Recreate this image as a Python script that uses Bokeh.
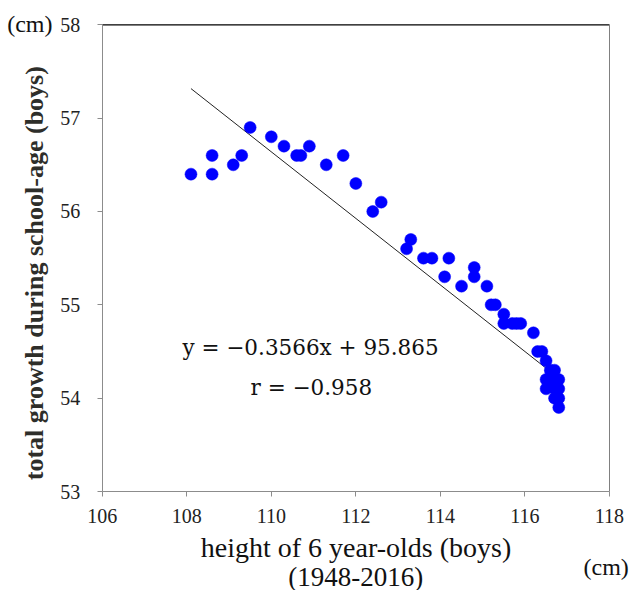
import math
from bokeh.plotting import figure
from bokeh.models import Label, FixedTicker, Range1d
from bokeh.embed import file_html
from bokeh.resources import INLINE

# ---- data ----
height_6yo = [108.1, 108.6, 108.6, 109.1, 109.3, 109.5, 110.0, 110.3, 110.6, 110.7,
              110.9, 111.3, 111.7, 112.0, 112.4, 112.6, 113.2, 113.3, 113.6, 113.8,
              114.2, 114.1, 114.5, 114.8, 114.8, 115.1, 115.2, 115.3, 115.5, 115.5,
              115.7, 115.8, 115.9, 116.2, 116.3, 116.4, 116.5, 116.6, 116.7, 116.5,
              116.8, 116.6, 116.5, 116.7, 116.8, 116.7, 116.8, 116.8]
total_growth = [56.4, 56.6, 56.4, 56.5, 56.6, 56.9, 56.8, 56.7, 56.6, 56.6,
                56.7, 56.5, 56.6, 56.3, 56.0, 56.1, 55.6, 55.7, 55.5, 55.5,
                55.5, 55.3, 55.2, 55.4, 55.3, 55.2, 55.0, 55.0, 54.9, 54.8,
                54.8, 54.8, 54.8, 54.7, 54.5, 54.5, 54.4, 54.3, 54.3, 54.2,
                54.2, 54.2, 54.1, 54.1, 54.1, 54.0, 54.0, 53.9]
slope = -0.3566
intercept = 95.865
x_ticks = [106, 108, 110, 112, 114, 116, 118]
y_ticks = [53, 54, 55, 56, 57, 58]
x_title = "height of 6 year-olds (boys)"
y_title = "total growth during school-age (boys)"
period_text = "(1948-2016)"
unit_text = "(cm)"
eq_text = "y = \u22120.3566x + 95.865"
r_text = "r = \u22120.958"

# ---- layout (pixels) ----
W, H = 630, 590
FL, FR, FT, FB = 101.7, 609.0, 24.3, 491.0   # plot-box edges inside the canvas
x_lo, x_hi = x_ticks[0], x_ticks[-1]
y_lo, y_hi = y_ticks[0], y_ticks[-1]
sx = (FR - FL) / (x_hi - x_lo)
sy = (FB - FT) / (y_hi - y_lo)
x_range = Range1d(x_lo - FL / sx, x_hi + (W - FR) / sx)
y_range = Range1d(y_lo - (H - FB) / sy, y_hi + FT / sy)

p = figure(width=W, height=H, x_range=x_range, y_range=y_range,
           output_backend="svg", toolbar_location=None,
           min_border=0, min_border_left=0, min_border_right=0,
           min_border_top=0, min_border_bottom=0)
p.background_fill_color = "white"
p.border_fill_color = "white"
p.outline_line_color = None
p.grid.visible = False

serif = "Liberation Serif"
xa, ya = p.xaxis[0], p.yaxis[0]
xa.fixed_location = y_lo
ya.fixed_location = x_lo
xa.bounds = (x_lo, x_hi)
ya.bounds = (y_lo, y_hi)
for ax in (xa, ya):
    ax.axis_line_color = "#8c8c8c"
    ax.major_tick_line_color = "#8c8c8c"
    ax.minor_tick_line_color = None
    ax.major_tick_in = 0
    ax.major_tick_out = 5
    ax.major_label_text_font = serif
    ax.major_label_text_font_size = "20px"
    ax.major_label_text_color = "#222222"
    ax.axis_label_text_font = serif

xa.ticker = FixedTicker(ticks=x_ticks)
ya.ticker = FixedTicker(ticks=y_ticks)
xa.major_label_standoff = 12
ya.major_label_standoff = 17

xa.axis_label = x_title
xa.axis_label_text_font_size = "28px"
xa.axis_label_text_font_style = "normal"
xa.axis_label_text_color = "#111111"
xa.axis_label_standoff = 6

# plot box: black top edge, grey right edge
p.line([x_lo, x_hi], [y_hi, y_hi], line_color="black", line_width=1.2)
p.line([x_hi, x_hi], [y_lo, y_hi], line_color="#808080", line_width=1)

# regression line from the given equation, spanning the data
x0, x1 = min(height_6yo), max(height_6yo)
p.line([x0, x1], [slope * x0 + intercept, slope * x1 + intercept],
       line_color="#222222", line_width=1)

p.scatter(height_6yo, total_growth, size=12, fill_color="#0000ff",
          line_color="#0000ff", line_width=0.5)

p.add_layout(Label(x=107.90, y=54.543, text=eq_text, text_font="DejaVu Serif",
                   text_font_size="21.5px", text_align="left", text_baseline="middle",
                   text_color="#111111"))
p.add_layout(Label(x=109.51, y=54.114, text=r_text, text_font="DejaVu Serif",
                   text_font_size="21.5px", text_align="left", text_baseline="middle",
                   text_color="#111111"))

# y-axis title (rotated)
p.add_layout(Label(x=x_lo, y=(y_lo + y_hi) / 2, x_offset=-67.7, y_offset=-15,
                   text=y_title, angle=math.pi / 2, text_font=serif,
                   text_font_size="26px", text_font_style="bold",
                   text_align="center", text_baseline="middle", text_color="#2e2e2a"))

# unit labels and period
p.add_layout(Label(x=x_lo, y=y_hi, x_offset=-95, y_offset=1, text=unit_text, text_font=serif,
                   text_font_size="24px", text_align="left", text_baseline="middle",
                   text_color="#111111"))
p.add_layout(Label(x=x_hi, y=y_lo, x_offset=-26, y_offset=-75, text=unit_text, text_font=serif,
                   text_font_size="24px", text_align="left", text_baseline="middle",
                   text_color="#111111"))
p.add_layout(Label(x=(x_lo + x_hi) / 2, y=y_lo, y_offset=-85, text=period_text,
                   text_font=serif, text_font_size="27px", text_align="center",
                   text_baseline="middle", text_color="#111111"))

open("out.html", "w").write(file_html(p, INLINE))
